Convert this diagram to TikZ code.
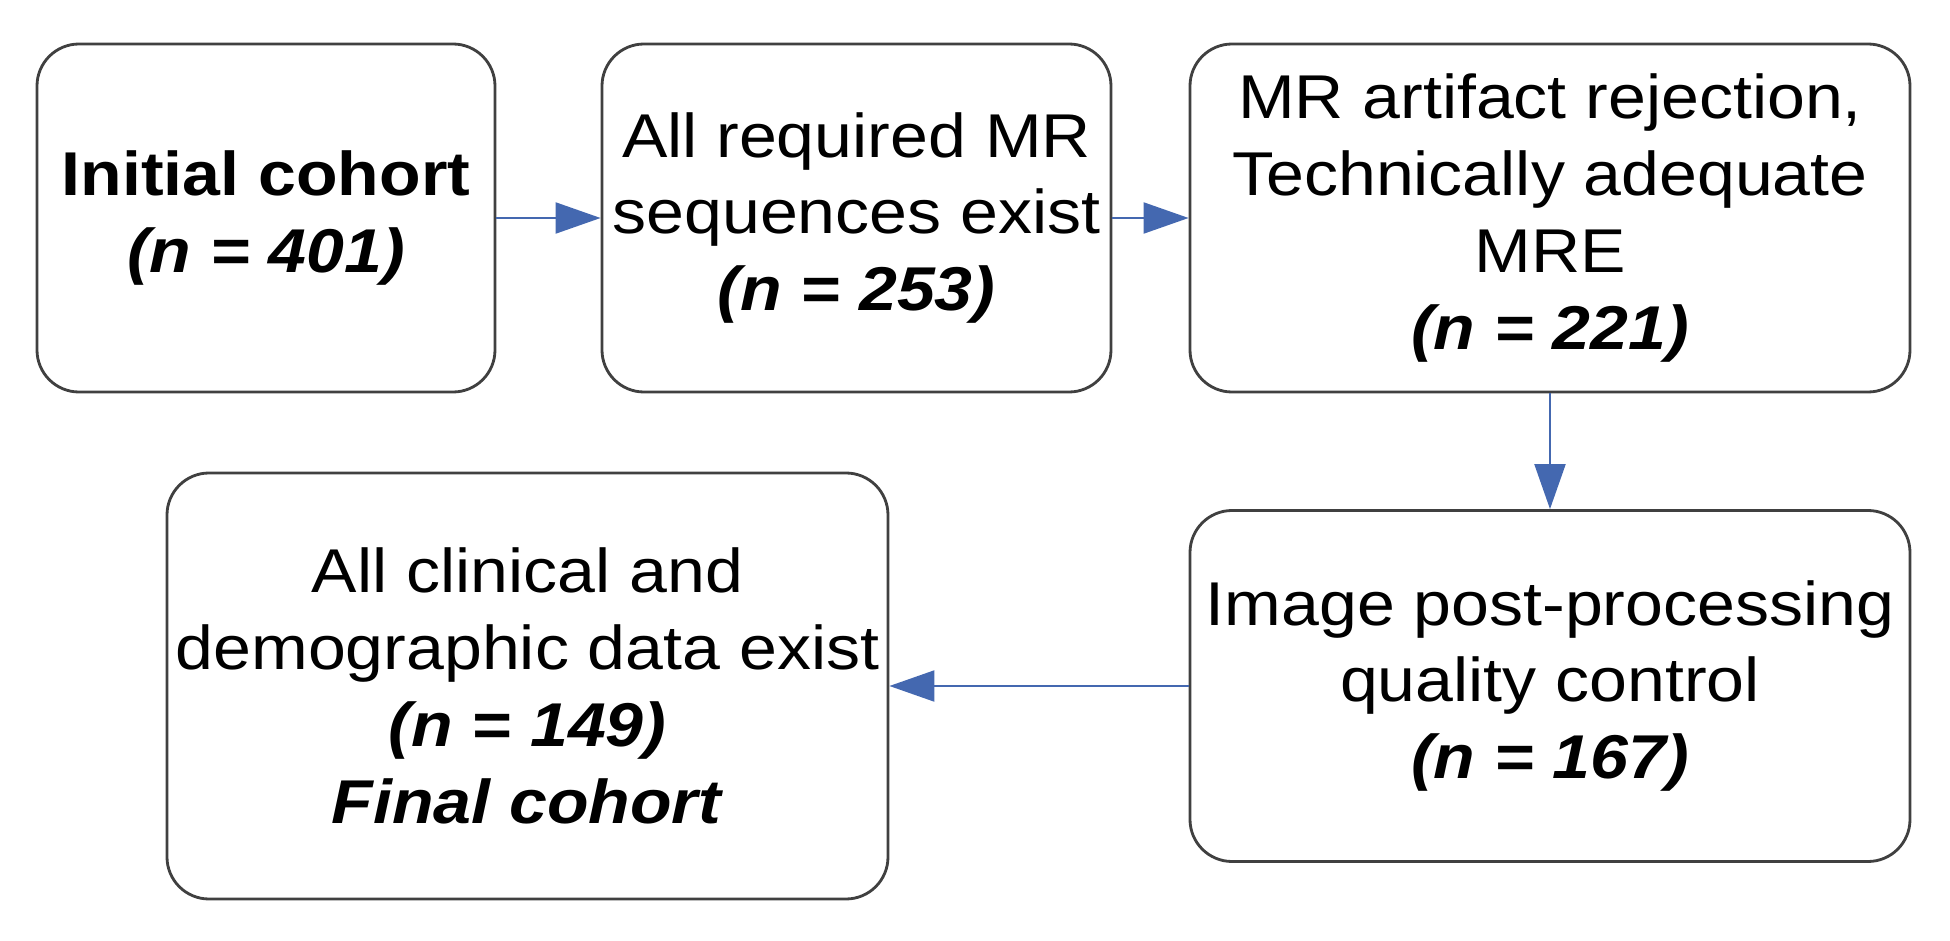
\documentclass[tikz,border=0pt]{standalone}
\usepackage{fontspec}
\setmainfont{Liberation Sans}[FakeStretch=1.1]
\usepackage{xcolor}
\usepackage{tikz}
\usetikzlibrary{positioning,arrows.meta,calc}
\definecolor{arrblue}{RGB}{68,104,176}

\begin{document}
\begin{tikzpicture}[
    font=\fontsize{17.6pt}{21.9pt}\selectfont,
    box/.style={
        draw=black!75,
        rounded corners=4.2mm,
        line width=0.8pt,
        minimum height=3.48cm,
        inner sep=2pt,
        align=center,
        fill=white
    },
    arr/.style={-{Triangle[length=4.5mm,width=3.1mm]}, draw=arrblue, fill=arrblue, line width=0.6pt}
]
\useasboundingbox (0,0) rectangle (19.5,-9.41);

% first row
\node[box, minimum width=4.58cm] (init) at (2.66,-2.18)
{\textbf{Initial cohort}\\
\textbf{\textit{(n = 401)}}};

\node[box, minimum width=5.09cm] (seq) at (8.565,-2.18)
{All required MR\\
sequences exist\\
\textbf{\textit{(n = 253)}}};

\node[box, minimum width=7.2cm] (art) at (15.5,-2.18)
{MR artifact rejection,\\
Technically adequate\\
MRE\\
\textbf{\textit{(n = 221)}}};

% second row
\node[box, minimum width=7.2cm, minimum height=3.51cm] (qc) at (15.5,-6.86)
{Image post-processing\\
quality control\\
\textbf{\textit{(n = 167)}}};

\node[box, minimum width=7.21cm, minimum height=4.26cm] (final) at (5.275,-6.86)
{All clinical and\\
demographic data exist\\
\textbf{\textit{(n = 149)}}\\
\textbf{\textit{Final cohort}}};

\draw[arr] (init) -- (seq);
\draw[arr] (seq) -- (art);
\draw[arr] (art) -- (qc);
\draw[arr] (qc) -- (final);

\end{tikzpicture}
\end{document}
